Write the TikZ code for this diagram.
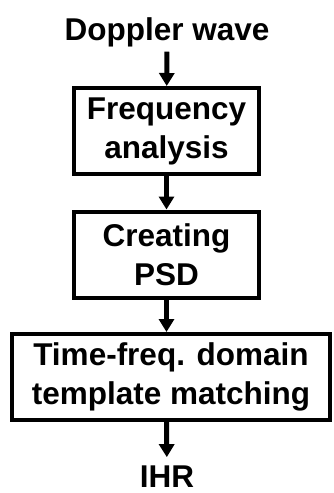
\documentclass[tikz,border=0pt]{standalone}
\usepackage{fontspec}
\setmainfont{Liberation Sans}
\usetikzlibrary{arrows.meta}

\begin{document}
\begin{tikzpicture}[x=1pt,y=1pt,
  txt/.style={font=\bfseries\fontsize{31.5}{39}\selectfont,inner sep=0pt},
  blk/.style={txt,draw,line width=4pt,align=center,minimum height=86},
  arr/.style={line width=5pt,-{Triangle[width=15pt,length=13pt]}}]
\useasboundingbox (0,0) rectangle (334,-493);

\node[txt,anchor=base] (dop) at (167,-40) {Doppler wave};
\node[blk,minimum width=185] (freq) at (166.5,-131) {Frequency\\analysis};
\node[blk,minimum width=185] (psd) at (166.5,-254.5) {Creating\\PSD};
\node[blk,minimum width=318] (match) at (171,-377) {Time-freq. domain\\template matching};
\node[txt,anchor=base] (ihr) at (167,-487) {IHR};

\draw[arr,shorten <=5pt] (dop) -- (freq);
\draw[arr] (freq) -- (psd);
\draw[arr] (psd) -- (psd|-match.north);
\draw[arr,shorten >=8pt] (psd|-match.south) -- (ihr);
\end{tikzpicture}
\end{document}
